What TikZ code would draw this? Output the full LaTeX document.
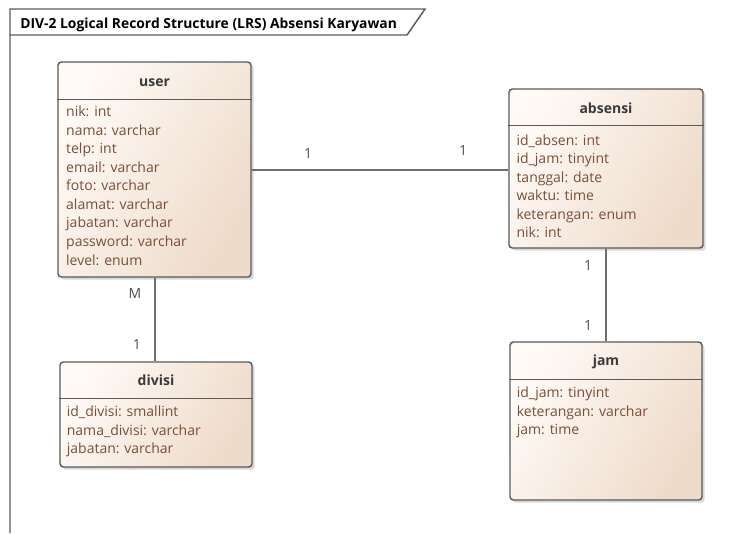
\documentclass[tikz,border=0pt]{standalone}
\usepackage{fontspec}
\setmainfont{Open Sans}
\usetikzlibrary{shadows,calc}
\definecolor{boxline}{HTML}{5A5A5A}
\definecolor{boxlight}{HTML}{FFFAF6}
\definecolor{boxdark}{HTML}{EEDBCA}
\definecolor{attrcol}{HTML}{7A4E38}
\definecolor{titlecol}{HTML}{3A3A3A}
\definecolor{conncol}{HTML}{6E6E6E}
\definecolor{labcol}{HTML}{505050}
\tikzset{
  entity/.style={draw=boxline, line width=1.1pt, rounded corners=2.5pt,
    left color=boxlight, right color=boxdark, shading angle=60,
    drop shadow={shadow xshift=2pt, shadow yshift=-2pt, fill=black!30, opacity=0.5},
    inner sep=0pt},
  etitle/.style={anchor=base, inner sep=0pt, font=\fontsize{10.5pt}{12pt}\selectfont\bfseries, text=titlecol},
  eline/.style={draw=boxline, line width=1.1pt},
  eattr/.style={anchor=base west, inner sep=0pt, font=\fontsize{10.5pt}{12pt}\selectfont, text=attrcol},
  conn/.style={draw=conncol, line width=0.9pt},
  mult/.style={inner sep=0pt, font=\fontsize{10.5pt}{12pt}\selectfont, text=labcol},
  frameline/.style={draw=boxline, line width=1.1pt},
}
\begin{document}
\begin{tikzpicture}[x=0.75pt,y=-0.75pt]
\useasboundingbox (0,0) rectangle (742,533);
% frame
\draw[frameline] (10,533) -- (10,9) -- (425,9) -- (407,35) -- (10,35);
\node[anchor=base west, inner sep=0pt, font=\fontsize{10.4pt}{12pt}\selectfont\bfseries, text=black] (frametitle) at (20,28) {DIV-2 Logical Record Structure (LRS) Absensi Karyawan};

% user
\node[entity, minimum width=144.75pt, minimum height=161.25pt] (user) at (154.5,169.5) {};
\node[etitle] (user-t) at ([yshift=-18.6pt]user.north) {user};
\draw[eline] ([yshift=-28.5pt]user.north west) -- ([yshift=-28.5pt]user.north east);
\foreach \t [count=\i, evaluate=\i as \yy using -27.7-13.9*\i] in
  {nik: int, nama: varchar, telp: int, email: varchar, foto: varchar, alamat: varchar, jabatan: varchar, password: varchar, level: enum}
  \node[eattr] (user-a\i) at ([xshift=6.5pt,yshift=\yy pt]user.north west) {\t};

% divisi
\node[entity, minimum width=144pt, minimum height=78.75pt] (divisi) at (156,414.5) {};
\node[etitle] (divisi-t) at ([yshift=-18.2pt]divisi.north) {divisi};
\draw[eline] ([yshift=-27.75pt]divisi.north west) -- ([yshift=-27.75pt]divisi.north east);
\foreach \t [count=\i, evaluate=\i as \yy using -27.7-13.9*\i] in
  {id\_divisi: smallint, nama\_divisi: varchar, jabatan: varchar}
  \node[eattr] (divisi-a\i) at ([xshift=5.5pt,yshift=\yy pt]divisi.north west) {\t};

% absensi
\node[entity, minimum width=145.5pt, minimum height=119.25pt] (absensi) at (606,168.5) {};
\node[etitle] (absensi-t) at ([yshift=-19.2pt]absensi.north) {absensi};
\draw[eline] ([yshift=-27.75pt]absensi.north west) -- ([yshift=-27.75pt]absensi.north east);
\foreach \t [count=\i, evaluate=\i as \yy using -28.8-13.9*\i] in
  {id\_absen: int, id\_jam: tinyint, tanggal: date, waktu: time, keterangan: enum, nik: int}
  \node[eattr] (absensi-a\i) at ([xshift=6pt,yshift=\yy pt]absensi.north west) {\t};

% jam
\node[entity, minimum width=144pt, minimum height=118.5pt] (jam) at (606,421) {};
\node[etitle] (jam-t) at ([yshift=-18.2pt]jam.north) {jam};
\draw[eline] ([yshift=-28.5pt]jam.north west) -- ([yshift=-28.5pt]jam.north east);
\foreach \t [count=\i, evaluate=\i as \yy using -28.3-13.9*\i] in
  {id\_jam: tinyint, keterangan: varchar, jam: time}
  \node[eattr] (jam-a\i) at ([xshift=5.5pt,yshift=\yy pt]jam.north west) {\t};

% connectors
\draw[conn] (user.east |- 0,170) -- (absensi.west |- 0,170);
\draw[conn] (user.south -| 155,0) -- (divisi.north -| 155,0);
\draw[conn] (absensi.south) -- (jam.north);

% multiplicities
\node[mult] (m1) at (308,153) {1};
\node[mult] (m2) at (463,150) {1};
\node[mult] (m3) at (135,293) {M};
\node[mult] (m4) at (137,344) {1};
\node[mult] (m5) at (588,265) {1};
\node[mult] (m6) at (588,325) {1};
\end{tikzpicture}
\end{document}
